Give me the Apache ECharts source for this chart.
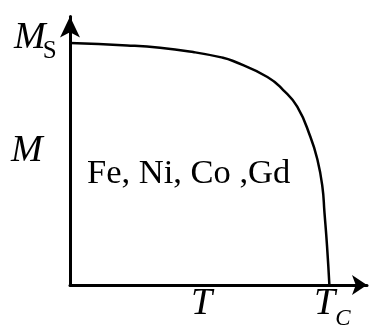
<!DOCTYPE html>
<html>
<head>
<meta charset="utf-8">
<script src="https://cdn.jsdelivr.net/npm/echarts@6/dist/echarts.min.js"></script>
<style>
  html, body { margin: 0; padding: 0; background: #fff; }
  #chart { width: 375px; height: 329px; }
</style>
</head>
<body>
<div id="chart"></div>
<script>
// Reduced temperature T / T_C
const tempRatio = [0, 0.22, 0.347, 0.475, 0.579, 0.629, 0.761, 0.822, 0.876, 0.927, 0.954, 0.973, 0.981, 0.991, 1];
// Reduced spontaneous magnetization M / M_S
const magnetization = [1, 0.9905, 0.981, 0.963, 0.942, 0.926, 0.860, 0.806, 0.737, 0.612, 0.518, 0.407, 0.300, 0.160, 0];
// Axis extents (beyond T_C and M_S so the arrows sit past the marks)
const tMax = 1.145;
const mMax = 1.11;

const serif = "'Liberation Serif', 'Times New Roman', 'DejaVu Serif', serif";

const chart = echarts.init(document.getElementById('chart'), null, { renderer: 'canvas' });

const axisCommon = {
  type: 'value',
  min: 0,
  splitLine: { show: false },
  axisTick: { show: false },
  axisLabel: { show: false }
};

chart.setOption({
  animation: false,
  backgroundColor: '#ffffff',
  grid: { left: 70, right: 8, top: 16.5, bottom: 44 },
  xAxis: Object.assign({}, axisCommon, {
    max: tMax,
    axisLine: {
      show: true, onZero: false,
      symbol: ['none', 'arrow'], symbolSize: [15, 15],
      lineStyle: { color: '#000', width: 3 }
    }
  }),
  yAxis: Object.assign({}, axisCommon, {
    max: mMax,
    axisLine: {
      show: true, onZero: false,
      symbol: ['none', 'arrow'], symbolSize: [15, 21],
      lineStyle: { color: '#000', width: 3 }
    }
  }),
  series: [{
    type: 'line',
    data: tempRatio.map((t, i) => [t, magnetization[i]]),
    smooth: 0.5,
    showSymbol: false,
    clip: false,
    lineStyle: { color: '#000', width: 2.5 }
  }],
  graphic: [
    {
      type: 'text', left: 14, top: 19,
      style: {
        text: '{m|M}{s|S}',
        rich: {
          m: { fontFamily: serif, fontStyle: 'italic', fontSize: 38, fill: '#000' },
          s: { fontFamily: serif, fontSize: 25, fill: '#000', verticalAlign: 'bottom', padding: [0, 0, -7, -3] }
        }
      }
    },
    {
      type: 'text', left: 11, top: 132,
      style: { text: 'M', fontFamily: serif, fontStyle: 'italic', fontSize: 38, fill: '#000' }
    },
    {
      type: 'text', left: 87, top: 156,
      style: { text: 'Fe, Ni, Co ,Gd', fontFamily: serif, fontSize: 34.5, fill: '#000' }
    },
    {
      type: 'text', left: 191, top: 285,
      style: { text: 'T', fontFamily: serif, fontStyle: 'italic', fontSize: 38, fill: '#000' }
    },
    {
      type: 'text', left: 314, top: 285,
      style: {
        text: '{t|T}{c|C}',
        rich: {
          t: { fontFamily: serif, fontStyle: 'italic', fontSize: 38, fill: '#000' },
          c: { fontFamily: serif, fontStyle: 'italic', fontSize: 23, fill: '#000', verticalAlign: 'bottom', padding: [0, 0, -7, 0] }
        }
      }
    }
  ]
});
</script>
</body>
</html>
